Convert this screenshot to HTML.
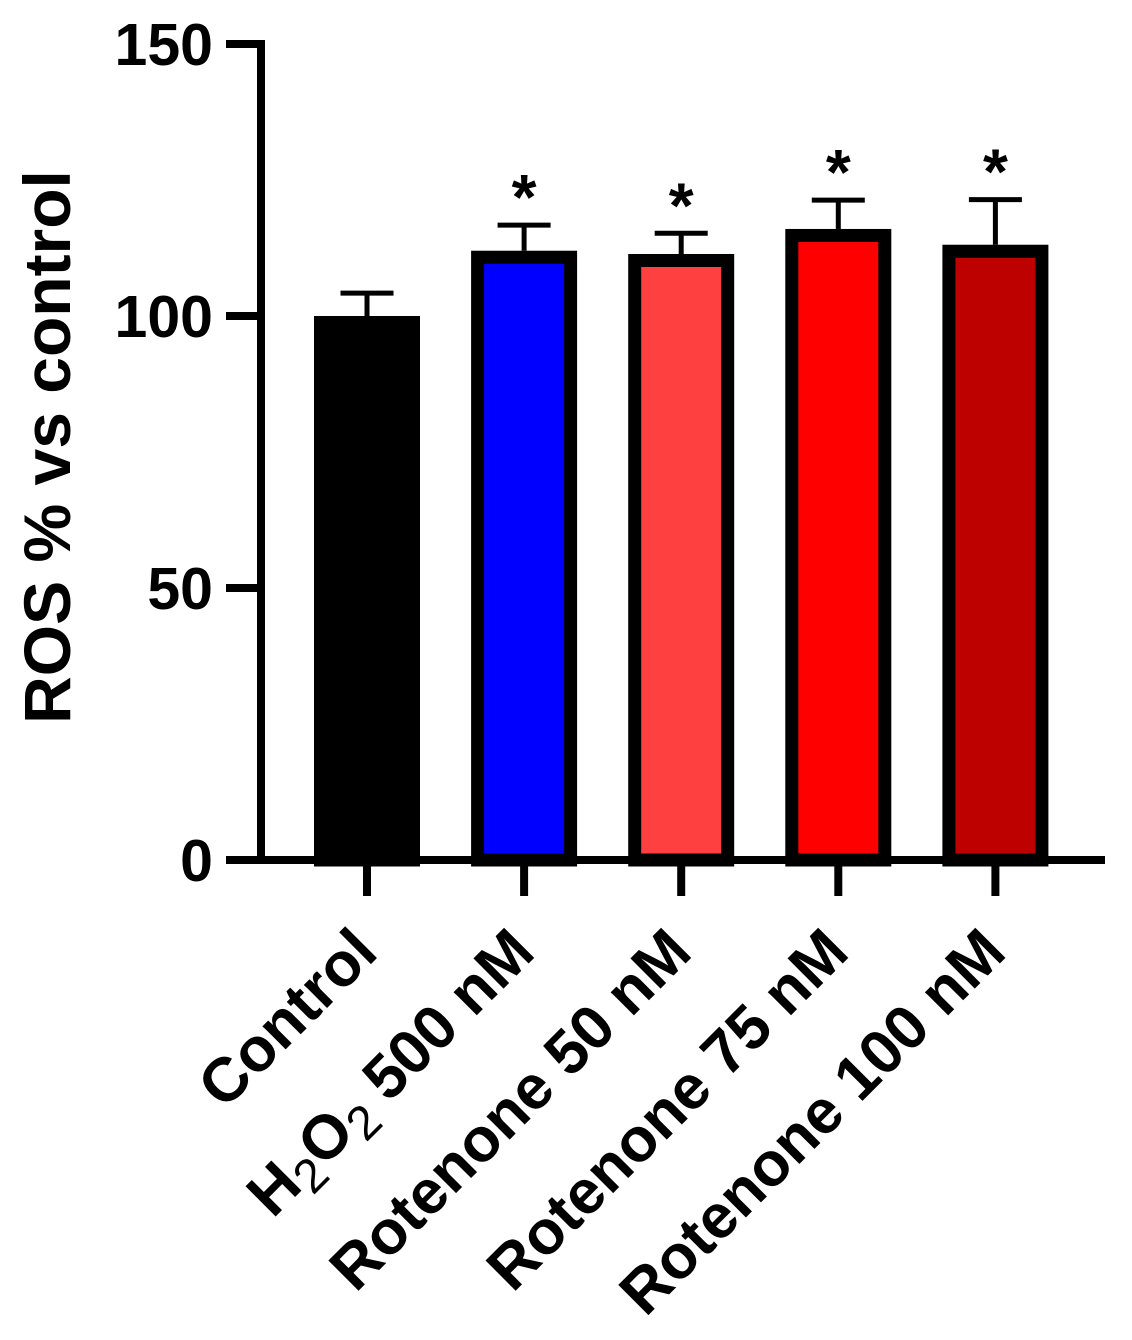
<!DOCTYPE html>
<html><head><meta charset="utf-8"><style>
html,body{margin:0;padding:0;background:#fff;}
svg{display:block;font-family:"Liberation Sans",Arial,sans-serif;}
</style></head><body>
<svg id="chart" width="1132" height="1340" viewBox="0 0 1132 1340" xmlns="http://www.w3.org/2000/svg">
<g id="plot"></g>
</svg>
<script>
const categories = ["Control", "H2O2 500 nM", "Rotenone 50 nM", "Rotenone 75 nM", "Rotenone 100 nM"];
const means = [100, 112, 111.4, 116, 113.1];
const errors = [104.2, 116.7, 115.2, 121.3, 121.4];
const significant = [false, true, true, true, true];
const fills = ["#000000", "#0000ff", "#ff4040", "#ff0000", "#bd0000"];
const yTicks = [0, 50, 100, 150];

const NS = "http://www.w3.org/2000/svg";
const g = document.getElementById("plot");
const y0 = 860, yTop = 44, yMax = 150;
function yScale(v){ return y0 - (y0 - yTop) * v / yMax; }
const x0 = 367, step = 157.1;
function xScale(i){ return x0 + step * i; }
function mk(tag, attrs, parent){
  const e = document.createElementNS(NS, tag);
  for (const k in attrs) e.setAttribute(k, attrs[k]);
  (parent || g).appendChild(e);
  return e;
}
categories.forEach((c, i) => {
  const cx = xScale(i);
  const top = yScale(means[i]);
  const et = yScale(errors[i]);
  const stem = mk("line", {x1: cx, x2: cx, y1: top, y2: et, stroke: "#000", "stroke-width": 5});
  
  
  const cap = mk("line", {x1: cx - 26.5, x2: cx + 26.5, y1: et, y2: et, stroke: "#000", "stroke-width": 5});
  
  
  const bar = mk("rect", {x: cx - 46.5, y: top + 6.5, width: 93, height: y0 - top - 6.5, fill: fills[i], stroke: "#000", "stroke-width": 13});
  
  
  if (significant[i]) {
    const s = mk("text", {x: cx, y: et - 42 + 36, "text-anchor": "middle", "font-size": 64, "font-weight": "bold", fill: "#000"});
    s.textContent = "*";
    
    
  }
  const t = mk("line", {x1: cx, x2: cx, y1: y0, y2: 896, stroke: "#000", "stroke-width": 8});
  
  
  const ax = cx + 13, ay = 955;
  const lab = mk("text", {x: ax, y: ay, "text-anchor": "end", "font-size": 62, "font-weight": "bold", fill: "#000", transform: `rotate(-45 ${ax} ${ay})`});
  
  
  if (c.startsWith("H2O2")) {
    const parts = [["H", null], ["2", "sub"], ["O", null], ["2", "sub"], [" 500 nM", "back"]];
    parts.forEach(p => {
      const ts = document.createElementNS(NS, "tspan");
      ts.textContent = p[0];
      if (p[1] === "sub") { ts.setAttribute("font-weight", "normal"); ts.setAttribute("font-size", "48"); ts.setAttribute("dy", "12"); }
      else if (p[0] === "O" || p[1] === "back") { ts.setAttribute("dy", "-12"); }
      lab.appendChild(ts);
    });
  } else lab.textContent = c;
});
const ya = mk("line", {x1: 261, x2: 261, y1: yTop - 4, y2: y0 + 4, stroke: "#000", "stroke-width": 8});


const xa = mk("line", {x1: 226, x2: 1105, y1: y0, y2: y0, stroke: "#000", "stroke-width": 8});


yTicks.forEach(v => {
  const yy = yScale(v);
  const tk = mk("line", {x1: 226, x2: 261, y1: yy, y2: yy, stroke: "#000", "stroke-width": 8});
  
  
  const tl = mk("text", {x: 213, y: yy + 21, "text-anchor": "end", "font-size": 59, "font-weight": "bold", fill: "#000"});
  tl.textContent = v;
  
  
});
const yt = mk("text", {x: 70, y: 447, "text-anchor": "middle", "font-size": 66, "font-weight": "bold", fill: "#000", transform: "rotate(-90 70 447)"});
yt.textContent = "ROS % vs control";


</script>
</body></html>
